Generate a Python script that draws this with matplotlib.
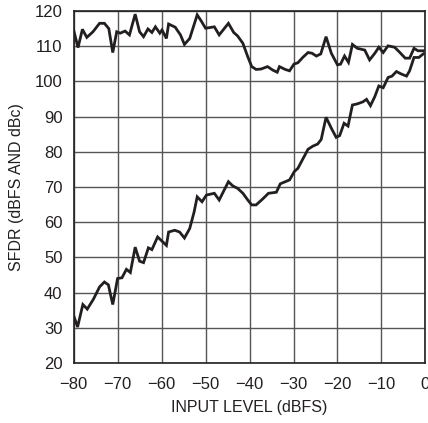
import matplotlib
matplotlib.use("Agg")
from matplotlib import pyplot as plt
from matplotlib import font_manager

# SFDR in dBFS (upper trace)
x_dbfs = [-80, -79, -78, -77, -75.6, -74.1, -73, -72, -71.1, -70.2, -69.4, -68.3, -67.3,
          -66, -65, -64.1, -63.1, -62.2, -61.4, -60.4, -59.9, -58.9, -58.4, -56.9, -55.7,
          -54.8, -53.6, -51.9, -51, -50, -48, -46.9, -44.8, -43.6, -42.7, -41.5, -40.4,
          -39.5, -38.5, -37.4, -35.9, -34.7, -33.7, -33.2, -31.9, -30.9, -29.9, -29,
          -27.9, -26.7, -25.8, -24.8, -23.8, -22.6, -21.4, -20, -19.3, -18.4, -17.5,
          -16.6, -15.5, -13.8, -12.7, -11.5, -10.6, -9.6, -8.5, -7, -5.8, -4.6, -3.6,
          -2.6, -1.7, -0.5]
sfdr_dbfs = [114.6, 109.6, 114.8, 112.5, 114.1, 116.5, 116.5, 115, 108.2, 114.1, 113.7,
             114.3, 113.2, 119.1, 114.1, 112.7, 114.9, 113.9, 115.5, 113.7, 114.6, 112.2,
             116.3, 115.4, 113.2, 110.5, 112.2, 118.9, 117.2, 115.1, 115.5, 113.2, 116.5,
             113.9, 112.9, 110.8, 107, 104.2, 103.4, 103.5, 104.2, 103.2, 102.6, 104.2,
             103.4, 103, 104.9, 105.3, 106.8, 108.2, 108, 107.2, 107.8, 112.7, 108,
             104.7, 104.9, 107.2, 105.4, 110.5, 109.4, 108.9, 106.1, 108, 109.7, 108.2,
             110.1, 109.7, 108.2, 106.6, 106.6, 109.4, 108.7, 108.7]

# SFDR in dBc (lower trace)
x_dbc = [-80, -79.1, -77.9, -76.9, -75.5, -74.1, -73, -72.1, -71.1, -70, -69, -68, -67.1,
         -66, -65, -64.1, -63, -62.2, -60.9, -59.9, -58.9, -58.4, -57, -55.9, -54.8,
         -53.6, -52.6, -51.9, -50.8, -49.8, -48, -46.9, -44.8, -43.8, -42.7, -41.5,
         -40.4, -39.5, -38.5, -37, -35.7, -33.9, -33, -30.9, -29.8, -29, -27.9, -26.7,
         -25.6, -24.5, -23.7, -22.6, -21.4, -20.3, -19.5, -18.5, -17.6, -16.6, -15.5,
         -14.2, -13.4, -12.5, -11.5, -10.6, -9.6, -8.5, -7.6, -6.6, -5.5, -4.3, -3.6,
         -2.6, -1.5, -0.5]
sfdr_dbc = [33.5, 30.2, 36.6, 35.3, 38.1, 41.6, 43, 42.2, 36.6, 44, 44.2, 46.6, 45.7,
            52.9, 48.9, 48.5, 52.7, 52.2, 55.8, 54.6, 53.4, 57.2, 57.7, 57.2, 55.5, 58.2,
            62.9, 67.2, 65.8, 67.7, 68.2, 66.3, 71.5, 70.3, 69.6, 68.2, 66.3, 64.9, 64.9,
            66.6, 68.2, 68.5, 70.9, 72, 74.4, 75.3, 77.9, 80.7, 81.6, 82.2, 83.5, 89.8,
            86.7, 84.1, 84.6, 88.1, 87.3, 93.3, 93.6, 94.2, 94.9, 93.1, 95.7, 98.7, 98.2,
            101.1, 101.5, 102.8, 102.1, 101.5, 103, 106.8, 106.8, 107.8]

xticks = [-80, -70, -60, -50, -40, -30, -20, -10, 0]
yticks = [20, 30, 40, 50, 60, 70, 80, 90, 100, 110, 120]

names = {f.name for f in font_manager.fontManager.ttflist}
plt.rcParams['font.family'] = ['Liberation Sans Narrow' if 'Liberation Sans Narrow' in names
                               else 'Liberation Sans', 'DejaVu Sans']

fig = plt.figure(figsize=(4.28, 4.23), dpi=100)
ax = fig.add_axes([0.172, 0.142, 0.822, 0.832])

ax.plot(x_dbfs, sfdr_dbfs, color='#231f20', lw=2.0, solid_joinstyle='miter')
ax.plot(x_dbc, sfdr_dbc, color='#231f20', lw=2.0, solid_joinstyle='miter')

ax.set_xlim(-80, 0)
ax.set_ylim(20, 120)
ax.set_xticks(xticks)
ax.set_yticks(yticks)
ax.set_xticklabels(['\u2212' + str(-t) if t else '0' for t in xticks])
ax.tick_params(length=0, labelsize=12, colors='#231f20')
ax.tick_params(axis='x', pad=10)
ax.tick_params(axis='y', pad=8)
ax.grid(True, color='#555555', lw=1.0)
for s in ax.spines.values():
    s.set_color('#231f20')
    s.set_linewidth(1.2)

ax.set_xlabel('INPUT LEVEL (dBFS)', fontsize=11.5, color='#231f20', labelpad=6)
ax.set_ylabel('SFDR (dBFS AND dBc)', fontsize=11.5, color='#231f20', labelpad=8)

fig.savefig('out.png', dpi=100)
